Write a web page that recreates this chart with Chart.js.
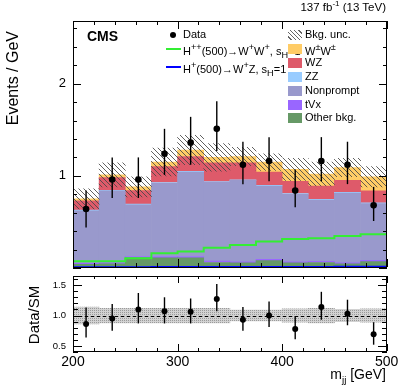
<!DOCTYPE html>
<html>
<head>
<meta charset="utf-8">
<script src="https://cdn.jsdelivr.net/npm/chart.js@4.4.0/dist/chart.umd.min.js"></script>
<style>
  body { margin: 0; background: #fff; }
  #wrap { position: relative; width: 407px; height: 387px; overflow: hidden; font-family: "Liberation Sans", Arial, sans-serif; color: #000; }
  canvas { position: absolute; left: 0; }
  .t { position: absolute; white-space: nowrap; line-height: 1; }
  .t sup, .t sub { font-size: 70%; line-height: 0; }
  .leg { position: absolute; white-space: nowrap; font-size: 11px; line-height: 1; }
  .sw { position: absolute; width: 14px; height: 10px; }
  .ln { position: absolute; background: #000; }
</style>
</head>
<body>
<div id="wrap">
  <canvas id="main" width="407" height="272" style="top:0"></canvas>
  <canvas id="ratio" width="407" height="115" style="top:272px"></canvas>
  <div id="frames"></div>
  <div class="t" style="right:21px; top:2px; font-size:11.5px">137 fb<sup>-1</sup> (13 TeV)</div>
  <div class="t" style="left:87px; top:29px; font-size:14px; font-weight:bold">CMS</div>
  <div class="t" style="left:5px; top:31px; font-size:16px; transform-origin:0 0; transform:translate(0,100px) rotate(-90deg); width:100px; text-align:right">Events / GeV</div>
  <div class="t" style="left:26px; top:282px; font-size:15px; transform-origin:0 0; transform:translate(0,66px) rotate(-90deg); width:66px; text-align:center">Data/SM</div>
  <div class="t" style="right:21px; top:367px; font-size:14px">m<sub>jj</sub> [GeV]</div>
  <div id="legend"></div>
</div>
<script>
// bin edges of m_jj (GeV)
const massEdges = [200, 225, 250, 275, 300, 325, 350, 375, 400, 425, 450, 475, 500];

// background stack, events / GeV per bin
const otherBkg  = [0.04, 0.045, 0.11, 0.11, 0.11, 0.06, 0.055, 0.08, 0.055, 0.06, 0.045, 0.07];
const tvx       = [0.012, 0.012, 0.015, 0.015, 0.015, 0.015, 0.012, 0.015, 0.012, 0.012, 0.01, 0.012];
const nonprompt = [0.568, 0.779, 0.561, 0.795, 0.915, 0.855, 0.883, 0.795, 0.733, 0.664, 0.759, 0.618];
const zz        = [0.008, 0.008, 0.008, 0.008, 0.008, 0.008, 0.008, 0.008, 0.008, 0.008, 0.008, 0.008];
const wz        = [0.102, 0.136, 0.146, 0.172, 0.162, 0.202, 0.182, 0.142, 0.132, 0.146, 0.128, 0.128];
const wpmwpm    = [0.02, 0.03, 0.04, 0.05, 0.07, 0.06, 0.07, 0.11, 0.13, 0.13, 0.14, 0.154];
const bkgUnc    = [0.11, 0.13, 0.11, 0.15, 0.16, 0.15, 0.10, 0.09, 0.12, 0.13, 0.10, 0.11];

// signals
const sigHpp = [0.072, 0.072, 0.107, 0.16, 0.18, 0.22, 0.25, 0.287, 0.316, 0.322, 0.348, 0.366];
const sigHp  = [0.008, 0.008, 0.009, 0.01, 0.01, 0.011, 0.011, 0.012, 0.012, 0.012, 0.013, 0.013];

// data
const dataY    = [0.64, 0.96, 0.96, 1.24, 1.36, 1.51, 1.12, 1.16, 0.84, 1.16, 1.12, 0.68];
const dataUp   = [0.2, 0.24, 0.24, 0.27, 0.28, 0.3, 0.25, 0.26, 0.23, 0.26, 0.25, 0.2];
const dataDown = [0.2, 0.2, 0.2, 0.23, 0.24, 0.24, 0.21, 0.22, 0.18, 0.22, 0.21, 0.17];

// ratio panel
const ratioY    = [0.86, 0.95, 1.10, 1.07, 1.06, 1.27, 0.93, 1.00, 0.78, 1.14, 1.03, 0.69];
const ratioUp   = [0.27, 0.24, 0.27, 0.23, 0.22, 0.25, 0.21, 0.23, 0.21, 0.25, 0.23, 0.2];
const ratioDown = [0.22, 0.2, 0.23, 0.2, 0.19, 0.2, 0.18, 0.19, 0.17, 0.21, 0.19, 0.17];
const ratioUnc  = [0.14, 0.12, 0.12, 0.12, 0.12, 0.12, 0.09, 0.09, 0.11, 0.12, 0.1, 0.11];

const colors = {
  other: '#669966', tvx: '#9966ff', nonprompt: '#9999cc', zz: '#99ccff',
  wz: '#de5a6a', ww: '#ffcc66', hpp: '#33ee33', hp: '#0000ff'
};

Chart.defaults.font.family = '"Liberation Sans", Arial, sans-serif';
Chart.defaults.color = '#000';

const centers = massEdges.slice(0, -1).map((e, i) => (e + massEdges[i + 1]) / 2);
const pts = arr => arr.map((v, i) => ({ x: centers[i], y: v }));
const stepPts = arr => massEdges.map((e, i) => ({ x: e, y: arr[Math.min(i, arr.length - 1)] }));

function makePattern(size, draw) {
  const c = document.createElement('canvas');
  c.width = size; c.height = size;
  const g = c.getContext('2d');
  draw(g, size);
  return g.createPattern(c, 'repeat');
}
const hatch = makePattern(5, (g, s) => {
  g.strokeStyle = 'rgba(70,70,70,0.85)';
  g.lineWidth = 1;
  for (const k of [-s, 0, s]) { g.beginPath(); g.moveTo(k, 0); g.lineTo(k + s, s); g.stroke(); }
});
const dots = makePattern(2, (g) => {
  g.fillStyle = '#d2d2d2'; g.fillRect(0, 0, 2, 2);
  g.fillStyle = '#9a9a9a'; g.fillRect(0, 0, 1, 1);
});

const totals = centers.map((_, i) => otherBkg[i] + tvx[i] + nonprompt[i] + zz[i] + wz[i] + wpmwpm[i]);

const errorBars = {
  id: 'errorBars',
  beforeDatasetDraw(chart, args) {
    const ds = chart.data.datasets[args.index];
    if (!ds.errUp) return;
    const { ctx } = chart;
    const x = chart.scales.x, y = chart.scales[ds.yAxisID || 'y'];
    ctx.save();
    ctx.strokeStyle = '#000';
    ctx.lineWidth = 1.4;
    ds.data.forEach((p, i) => {
      const px = x.getPixelForValue(p.x);
      ctx.beginPath();
      ctx.moveTo(px, y.getPixelForValue(p.y + ds.errUp[i]));
      ctx.lineTo(px, y.getPixelForValue(p.y - ds.errDown[i]));
      ctx.stroke();
    });
    ctx.restore();
  }
};

// dashed line at 1 in the ratio panel, over the band
const unityLine = {
  id: 'unityLine',
  afterDatasetDraw(chart, args) {
    if (args.index !== 1) return;
    const { ctx, chartArea: a } = chart;
    const py = Math.round(chart.scales.y.getPixelForValue(1)) + 0.5;
    ctx.save();
    ctx.strokeStyle = '#000'; ctx.lineWidth = 1; ctx.setLineDash([3, 3]);
    ctx.beginPath(); ctx.moveTo(a.left, py); ctx.lineTo(a.right, py); ctx.stroke();
    ctx.restore();
  }
};

const noPad = s => { s.paddingTop = 0; s.paddingBottom = 0; s.paddingLeft = 0; s.paddingRight = 0; };
const fixY = s => { s.width = 73; noPad(s); };

const stackBar = (label, arr, color) => ({
  type: 'bar', label, data: pts(arr), backgroundColor: color, borderWidth: 0,
  barPercentage: 1, categoryPercentage: 1, yAxisID: 'y', order: 3
});

const mainChart = new Chart(document.getElementById('main').getContext('2d'), {
  data: {
    datasets: [
      { type: 'line', label: 'Data', data: pts(dataY), errUp: dataUp, errDown: dataDown, yAxisID: 'y2',
        showLine: false, pointRadius: 3.3, pointBackgroundColor: '#000', pointBorderWidth: 0, order: 0 },
      { type: 'line', label: 'H++(500)', data: stepPts(sigHpp), yAxisID: 'y2', stepped: true,
        borderColor: colors.hpp, borderWidth: 2, pointRadius: 0, fill: false, order: 1 },
      { type: 'line', label: 'H+(500)', data: stepPts(sigHp), yAxisID: 'y2', stepped: true,
        borderColor: colors.hp, borderWidth: 2, pointRadius: 0, fill: false, order: 1 },
      { type: 'bar', label: 'Bkg. unc.', data: centers.map((c, i) => ({ x: c, y: [totals[i] - bkgUnc[i], totals[i] + bkgUnc[i]] })),
        backgroundColor: hatch, borderWidth: 0, barPercentage: 1, categoryPercentage: 1, yAxisID: 'y2', order: 2 },
      stackBar('Other bkg.', otherBkg, colors.other),
      stackBar('tVx', tvx, colors.tvx),
      stackBar('Nonprompt', nonprompt, colors.nonprompt),
      stackBar('ZZ', zz, colors.zz),
      stackBar('WZ', wz, colors.wz),
      stackBar('W±W±', wpmwpm, colors.ww)
    ]
  },
  options: {
    responsive: false, animation: false, devicePixelRatio: 1, events: [],
    layout: { padding: { top: 21, right: 20.3, bottom: 2, left: 0 } },
    scales: {
      x: { type: 'linear', min: 200, max: 500, offset: false, stacked: true, display: false, afterFit: noPad, ticks: { stepSize: 100 } },
      y: { type: 'linear', min: 0, max: 2.68, stacked: true, grid: { display: false, drawTicks: false }, border: { display: false },
           afterFit: fixY,
           ticks: { stepSize: 1, includeBounds: false, padding: 7, font: { size: 13 }, callback: v => v === 0 ? '' : v } },
      y2: { type: 'linear', min: 0, max: 2.68, display: false, afterFit: noPad }
    },
    plugins: { legend: { display: false }, tooltip: { enabled: false } }
  },
  plugins: [errorBars]
});

const ratioChart = new Chart(document.getElementById('ratio').getContext('2d'), {
  data: {
    datasets: [
      { type: 'line', label: 'Data/SM', data: pts(ratioY), errUp: ratioUp, errDown: ratioDown,
        showLine: false, pointRadius: 3, pointBackgroundColor: '#000', pointBorderWidth: 0, order: 0 },
      { type: 'bar', label: 'Bkg. unc.', data: centers.map((c, i) => ({ x: c, y: [1 - ratioUnc[i], 1 + ratioUnc[i]] })),
        backgroundColor: dots, borderWidth: 0, barPercentage: 1, categoryPercentage: 1, order: 1 }
    ]
  },
  options: {
    responsive: false, animation: false, devicePixelRatio: 1, events: [],
    layout: { padding: { top: 2, right: 20.3, bottom: 0, left: 0 } },
    scales: {
      x: { type: 'linear', min: 200, max: 500, offset: false, grid: { display: false, drawTicks: false }, border: { display: false },
           afterFit: s => { s.height = 35; noPad(s); },
           ticks: { stepSize: 100, padding: 2, maxRotation: 0, font: { size: 14 } } },
      y: { type: 'linear', min: 0.4, max: 1.65, grid: { display: false, drawTicks: false }, border: { display: false },
           afterFit: fixY,
           ticks: { stepSize: 0.5, includeBounds: false, padding: 7, font: { size: 9.5 } } }
    },
    plugins: { legend: { display: false }, tooltip: { enabled: false } }
  },
  plugins: [errorBars, unityLine]
});

// pull each plot area onto the panel edges of the reference
function fitArea(chart, top, bottom) {
  const a = chart.chartArea;
  const p = chart.options.layout.padding;
  const dt = top - a.top, db = a.bottom - bottom;
  if (Math.abs(dt) > 0.2 || Math.abs(db) > 0.2) {
    chart.options.layout.padding = { top: p.top + dt, right: p.right, bottom: p.bottom + db, left: p.left };
    chart.update();
  }
}
fitArea(mainChart, 21, 270);
fitArea(ratioChart, 2, 80);

// frames with inward ticks on all four sides, placed from the chart scales
function frameHtml(chart, offY, o) {
  const a = chart.chartArea, x = chart.scales.x, y = chart.scales.y;
  const L = Math.round(a.left), R = Math.round(a.right) - 1;
  const T = Math.round(a.top + offY), B = Math.round(a.bottom + offY) - 1;
  const box = (l, t, w, h) => `<div class="ln" style="left:${l}px;top:${t}px;width:${w}px;height:${h}px"></div>`;
  let h = box(L, T, R - L + 1, 1) + box(L, B, R - L + 1, 1) + box(L, T, 1, B - T + 1) + box(R, T, 1, B - T + 1);
  for (let v = x.min; v <= x.max + 1e-6; v += o.xMinor) {
    const px = Math.round(x.getPixelForValue(v));
    const len = Math.abs(v % o.xMajor) < 1e-6 ? o.xMajorLen : o.xMinorLen;
    h += box(px, B - len, 1, len) + box(px, T, 1, len);
  }
  const k0 = Math.ceil(y.min / o.yMinor - 1e-6);
  for (let k = k0; k * o.yMinor <= y.max + 1e-6; k++) {
    const v = k * o.yMinor;
    const py = Math.round(y.getPixelForValue(v) + offY);
    const r = v / o.yMajor;
    const len = Math.abs(r - Math.round(r)) < 1e-6 ? o.yMajorLen : o.yMinorLen;
    h += box(L, py, len, 1) + box(R - len + 1, py, len, 1);
  }
  return h;
}
document.getElementById('frames').innerHTML =
  frameHtml(mainChart, 0, { xMinor: 20, xMajor: 100, xMinorLen: 4, xMajorLen: 8, yMinor: 0.2, yMajor: 1, yMinorLen: 4, yMajorLen: 8 }) +
  frameHtml(ratioChart, 272, { xMinor: 20, xMajor: 100, xMinorLen: 3, xMajorLen: 7, yMinor: 0.1, yMajor: 0.5, yMinorLen: 5, yMajorLen: 9 });

// legend
const leftItems = [
  { html: 'Data', kind: 'dot' },
  { html: 'H<sup>++</sup>(500)→W<sup>+</sup>W<sup>+</sup>, s<sub>H</sub>=1', kind: 'line', color: colors.hpp },
  { html: 'H<sup>+</sup>(500)→W<sup>+</sup>Z, s<sub>H</sub>=1', kind: 'line', color: colors.hp }
];
const leftRows = [35, 49, 67];
const rightItems = [
  { html: 'Bkg. unc.', fill: 'repeating-linear-gradient(45deg, #fff 0 2px, #666 2px 3px)' },
  { html: 'W<sup>±</sup>W<sup>±</sup>', fill: colors.ww },
  { html: 'WZ', fill: colors.wz },
  { html: 'ZZ', fill: colors.zz },
  { html: 'Nonprompt', fill: colors.nonprompt },
  { html: 'tVx', fill: colors.tvx },
  { html: 'Other bkg.', fill: colors.other }
];
let out = '';
leftItems.forEach((it, i) => {
  const yc = leftRows[i];
  if (it.kind === 'dot') {
    out += `<div style="position:absolute;left:170px;top:${yc - 3}px;width:6px;height:6px;border-radius:50%;background:#000"></div>`;
  } else {
    out += `<div style="position:absolute;left:166px;top:${yc - 1}px;width:15px;height:2px;background:${it.color}"></div>`;
  }
  out += `<div class="leg" style="left:183px;top:${yc - 6}px">${it.html}</div>`;
});
rightItems.forEach((it, i) => {
  const yc = 35 + i * 13.9;
  out += `<div class="sw" style="left:288px;top:${yc - 5}px;background:${it.fill}"></div>`;
  out += `<div class="leg" style="left:305px;top:${yc - 6}px">${it.html}</div>`;
});
document.getElementById('legend').innerHTML = out;
</script>
</body>
</html>
